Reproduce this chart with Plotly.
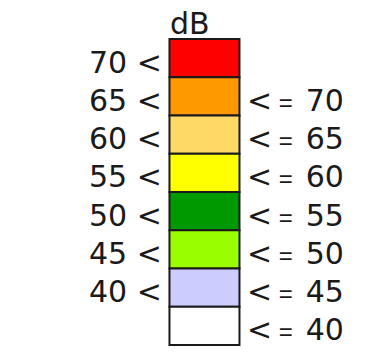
import plotly.graph_objects as go

# noise bands, top to bottom
lower = [70, 65, 60, 55, 50, 45, 40, None]
upper = [None, 70, 65, 60, 55, 50, 45, 40]
colors = ["#FF0000", "#FF9900", "#FFD966", "#FFFF00",
          "#009900", "#99FF00", "#CCCCFF", "#FFFFFF"]
unit = "dB"

rows = list(range(len(colors)))

fig = go.Figure()
fig.add_trace(go.Bar(
    x=[0] * len(rows),
    y=[1] * len(rows),
    base=rows,
    width=1,
    marker=dict(color=colors, line=dict(color="#1a1a1a", width=2)),
    hoverinfo="skip",
))

font = dict(family="DejaVu Sans", size=30, color="#1a1a1a")
eq = ("<span style='font-family:Liberation Sans;font-size:24px'> =</span>"
      "<span style='font-family:Liberation Sans;font-size:12px'>&#160;</span>")

for i in rows:
    if lower[i] is not None:
        fig.add_annotation(x=0, y=i + 0.5, text=f"{lower[i]} &lt;",
                           xanchor="right", yanchor="middle",
                           xshift=-40, yshift=-4, showarrow=False, font=font)
    if upper[i] is not None:
        fig.add_annotation(x=0, y=i + 0.5, text=f"&lt;{eq} {upper[i]}",
                           xanchor="left", yanchor="middle",
                           xshift=41, yshift=-4, showarrow=False, font=font)

fig.add_annotation(x=0, y=0, text=unit, xanchor="left", yanchor="bottom",
                   xshift=-36, yshift=-4, showarrow=False, font=font)

fig.update_layout(
    width=382, height=360,
    margin=dict(l=0, r=0, t=0, b=0),
    paper_bgcolor="white", plot_bgcolor="white",
    showlegend=False,
    xaxis=dict(range=[-2.921, 2.536], visible=False, fixedrange=True),
    yaxis=dict(range=[8.392, -1.0196], visible=False, fixedrange=True),
)

fig.write_html("out.html", config={"displayModeBar": False},
               post_script="document.body.style.margin = '0';")
